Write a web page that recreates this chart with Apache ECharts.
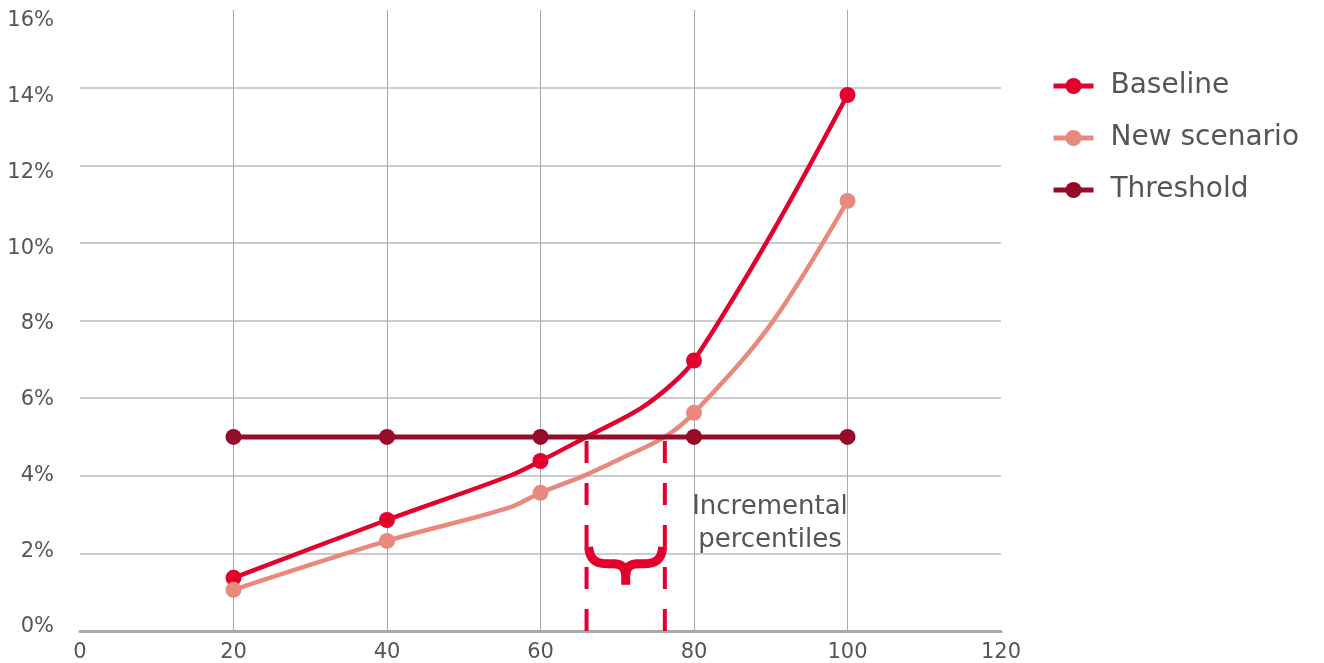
<!DOCTYPE html>
<html>
<head>
<meta charset="utf-8">
<script src="https://cdn.jsdelivr.net/npm/echarts@6/dist/echarts.min.js"></script>
<style>
html,body{margin:0;padding:0;background:#fff;}
#chart{width:1324px;height:663px;}
</style>
</head>
<body>
<div id="chart"></div>
<script>
// ---- data ----
const markerX = [20, 40, 60, 80, 100];
const baselineX = [20, 40, 56, 60, 66, 73, 77.3, 80, 90, 100];
const baselineY = [1.37, 2.86, 4.0, 4.38, 5.0, 5.73, 6.39, 6.97, 10.2, 13.81];
const scenarioX = [20, 40, 55.8, 60, 66, 71.3, 76.2, 80, 90, 100];
const scenarioY = [1.06, 2.32, 3.17, 3.56, 4.03, 4.52, 5.0, 5.62, 7.9, 11.08];
const thresholdX = [20, 40, 60, 80, 100];
const thresholdY = [5, 5, 5, 5, 5];
const incrementalX = [66, 76.2];
const thresholdLevel = 5;
const yTickValues = [0, 2, 4, 6, 8, 10, 12, 14, 16];
const seriesNames = ['Baseline', 'New scenario', 'Threshold'];
const annotationText = 'Incremental\npercentiles';
const braceAt = [71.1, 1.68];
const annotationAt = [89.9, 2.77];

const COL_BASE = '#E2002C';
const COL_NEW = '#E8897E';
const COL_THR = '#960C28';
const FONT = 'DejaVu Sans';
const TXT = '#555555';

function pts(xs, ys) {
  return xs.map((x, i) => ({
    value: [x, ys[i]],
    symbol: markerX.indexOf(x) >= 0 ? 'circle' : 'none'
  }));
}

const chart = echarts.init(document.getElementById('chart'));

const lineSeries = (name, xs, ys, color, smooth, width) => ({
  name: name,
  type: 'line',
  data: pts(xs, ys),
  smooth: smooth,
  symbol: 'circle',
  symbolSize: 16,
  showAllSymbol: true,
  lineStyle: { color: color, width: width },
  itemStyle: { color: color },
  emphasis: { disabled: true },
  animation: false
});

const dashSeries = incrementalX.map((x) => ({
  name: 'dash' + x,
  type: 'line',
  data: [[x, 0], [x, thresholdLevel]],
  symbol: 'none',
  lineStyle: { color: COL_BASE, width: 4, type: [22, 20] },
  silent: true,
  z: 1,
  animation: false
}));

const legendCenters = [86, 138, 190];
const legends = seriesNames.map((n, i) => ({
  data: [n],
  left: 1046,
  top: legendCenters[i] - 20,
  padding: 5,
  itemWidth: 40,
  itemHeight: 20,
  lineStyle: { width: 5 },
  textStyle: { fontFamily: FONT, fontSize: 28, color: TXT, padding: [0, 0, 0, 12], lineHeight: 30 },
  selectedMode: false
}));

// label-only axis: label for 0 sits at y≈627, label for 16 at y≈21 (grid 10..631)
const labMin = -0.1056, labMax = 16.29;

chart.setOption({
  backgroundColor: '#fff',
  animation: false,
  legend: legends,
  grid: { left: 80, right: 323, top: 10, bottom: 32, containLabel: false },
  xAxis: {
    type: 'value', min: 0, max: 120, interval: 20,
    axisLine: { show: true, lineStyle: { color: '#aaaaaa', width: 3 } },
    axisTick: { show: false },
    axisLabel: { fontFamily: FONT, fontSize: 21, color: TXT, margin: 11 },
    splitLine: { show: true, lineStyle: { color: ['transparent', '#aaaaaa', '#aaaaaa', '#aaaaaa', '#aaaaaa', '#aaaaaa', 'transparent'], width: 1 } }
  },
  yAxis: [
    {
      type: 'value', min: 0, max: 16, interval: 2,
      axisLine: { show: false },
      axisTick: { show: false },
      axisLabel: { show: false },
      splitLine: { show: true, lineStyle: { color: ['transparent', '#cccccc', '#cccccc', '#cccccc', '#cccccc', '#cccccc', '#cccccc', '#cccccc', 'transparent'], width: 2 } }
    },
    {
      type: 'value', min: labMin, max: labMax, position: 'left',
      axisLine: { show: false },
      axisTick: { show: false },
      splitLine: { show: false },
      axisLabel: {
        fontFamily: FONT, fontSize: 21, color: TXT, margin: 26,
        customValues: yTickValues,
        formatter: (v) => Math.round(v) + '%'
      }
    }
  ],
  series: [
    ...dashSeries,
    lineSeries(seriesNames[0], baselineX, baselineY, COL_BASE, 0.35, 4.5),
    lineSeries(seriesNames[1], scenarioX, scenarioY, COL_NEW, 0.35, 4.5),
    lineSeries(seriesNames[2], thresholdX, thresholdY, COL_THR, false, 5)
  ]
});

const bp = chart.convertToPixel({ gridIndex: 0 }, braceAt);
const ap = chart.convertToPixel({ gridIndex: 0 }, annotationAt);

// brace built from curve/line pieces, local coords around its centre
const braceStyle = { fill: 'none', stroke: COL_BASE, lineWidth: 9, lineCap: 'butt' };
function braceHalf(s) {
  return [
    { type: 'bezierCurve', silent: true, style: braceStyle,
      shape: { x1: -37 * s, y1: -19, cpx1: -36 * s, cpy1: -6, cpx2: -30 * s, cpy2: -2, x2: -17 * s, y2: -2 } },
    { type: 'line', silent: true, style: braceStyle,
      shape: { x1: -18 * s, y1: -2, x2: -11 * s, y2: -2 } },
    { type: 'bezierCurve', silent: true, style: braceStyle,
      shape: { x1: -12 * s, y1: -2, cpx1: -4 * s, cpy1: -2, cpx2: -0.5 * s, cpy2: 2, x2: 0, y2: 9 } }
  ];
}
chart.setOption({
  graphic: [
    {
      type: 'group', x: bp[0], y: bp[1], silent: true,
      children: [
        ...braceHalf(1),
        ...braceHalf(-1),
        { type: 'line', silent: true, style: braceStyle, shape: { x1: 0, y1: 6, x2: 0, y2: 19 } }
      ]
    },
    {
      type: 'text', x: ap[0], y: ap[1], silent: true,
      style: { text: annotationText, fontFamily: FONT, fontSize: 26, lineHeight: 33, fill: TXT, align: 'center', verticalAlign: 'middle' }
    }
  ]
});
</script>
</body>
</html>
